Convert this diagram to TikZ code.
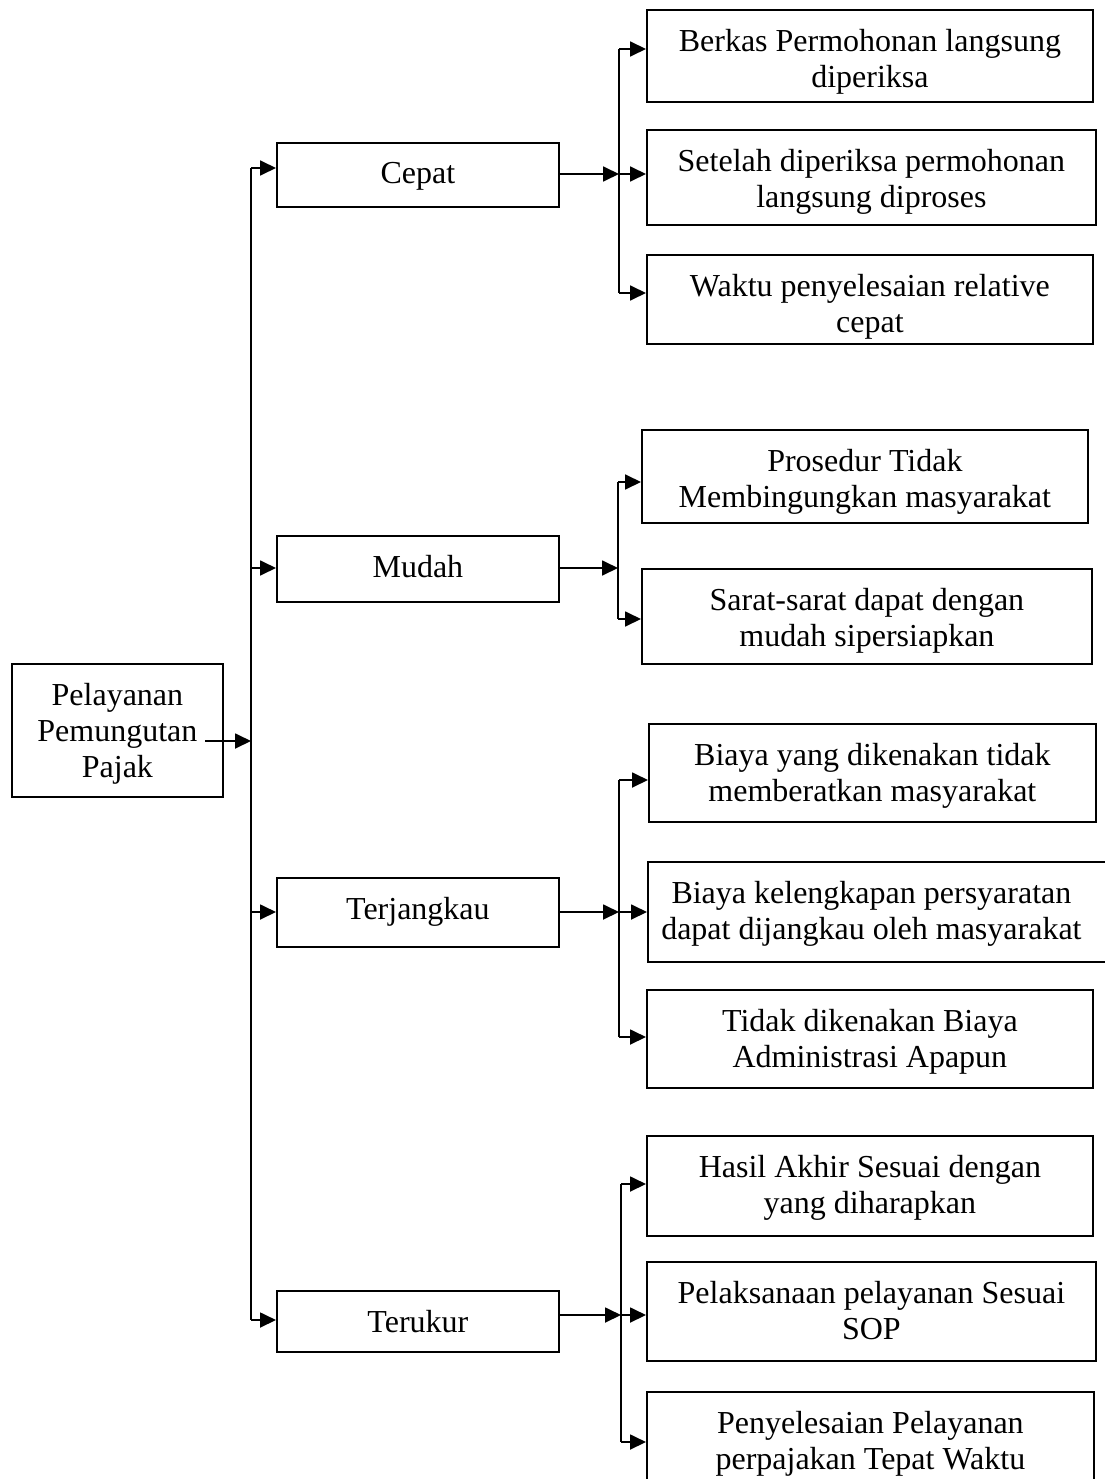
\documentclass[tikz,border=0pt]{standalone}
\usepackage{fontspec}
\setmainfont{Liberation Serif}
\usetikzlibrary{arrows.meta}
\begin{document}
\begin{tikzpicture}[x=1pt,y=-1pt,
  box/.style={draw, line width=1.8pt, rectangle, inner sep=0pt, anchor=north west},
  txt/.style={anchor=north, align=center, inner sep=0pt, font=\fontsize{32}{36}\selectfont},
  conn/.style={line width=1.8pt},
  arr/.style={line width=1.8pt, -{Triangle[length=16pt,width=15pt]}}
]
\useasboundingbox (0,0) rectangle (1104,1479);

% main box
\node[box, minimum width=211pt, minimum height=133pt] (main) at (11,663) {};
\node[txt] (tmain) at ([yshift=-20pt]main.north) {Pelayanan\\Pemungutan\\Pajak};

% level 1 boxes
\node[box, minimum width=282pt, minimum height=64pt] (cepat) at (276,142) {};
\node[txt] (tcepat) at ([yshift=-20pt]cepat.north) {Cepat};
\node[box, minimum width=282pt, minimum height=66pt] (mudah) at (276,535) {};
\node[txt] (tmudah) at ([yshift=-20pt]mudah.north) {Mudah};
\node[box, minimum width=282pt, minimum height=69pt] (terj) at (276,877) {};
\node[txt] (tterj) at ([yshift=-20pt]terj.north) {Terjangkau};
\node[box, minimum width=282pt, minimum height=61pt] (teru) at (276,1290) {};
\node[txt] (tteru) at ([yshift=-20pt]teru.north) {Terukur};

% level 2 boxes
\node[box, minimum width=446pt, minimum height=92pt] (b11) at (646,9) {};
\node[txt] (t11) at ([yshift=-20pt]b11.north) {Berkas Permohonan langsung\\diperiksa};
\node[box, minimum width=449pt, minimum height=95pt] (b12) at (646,129) {};
\node[txt] (t12) at ([yshift=-20pt]b12.north) {Setelah diperiksa permohonan\\langsung diproses};
\node[box, minimum width=446pt, minimum height=89pt] (b13) at (646,254) {};
\node[txt] (t13) at ([yshift=-20pt]b13.north) {Waktu penyelesaian relative\\cepat};

\node[box, minimum width=446pt, minimum height=93pt] (b21) at (641,429) {};
\node[txt] (t21) at ([yshift=-20pt]b21.north) {Prosedur Tidak\\Membingungkan masyarakat};
\node[box, minimum width=450pt, minimum height=95pt] (b22) at (641,568) {};
\node[txt] (t22) at ([yshift=-20pt]b22.north) {Sarat-sarat dapat dengan\\mudah sipersiapkan};

\node[box, minimum width=447pt, minimum height=98pt] (b31) at (648,723) {};
\node[txt] (t31) at ([yshift=-20pt]b31.north) {Biaya yang dikenakan tidak\\memberatkan masyarakat};
\node[box, minimum width=463pt, minimum height=100pt] (b32) at (647,861) {};
\node[txt] (t32) at ([xshift=-8pt,yshift=-20pt]b32.north) {Biaya kelengkapan persyaratan\\dapat dijangkau oleh masyarakat};
\node[box, minimum width=446pt, minimum height=98pt] (b33) at (646,989) {};
\node[txt] (t33) at ([yshift=-20pt]b33.north) {Tidak dikenakan Biaya\\Administrasi Apapun};

\node[box, minimum width=446pt, minimum height=100pt] (b41) at (646,1135) {};
\node[txt] (t41) at ([yshift=-20pt]b41.north) {Hasil Akhir Sesuai dengan\\yang diharapkan};
\node[box, minimum width=449pt, minimum height=99pt] (b42) at (646,1261) {};
\node[txt] (t42) at ([yshift=-20pt]b42.north) {Pelaksanaan pelayanan Sesuai\\SOP};
\node[box, minimum width=447pt, minimum height=100pt] (b43) at (646,1391) {};
\node[txt] (t43) at ([yshift=-20pt]b43.north) {Penyelesaian Pelayanan\\perpajakan Tepat Waktu};

% main trunk
\coordinate (mout) at (205,741);
\coordinate (mj) at (251,741);
\coordinate (m1) at (251,168);
\coordinate (m2) at (251,568);
\coordinate (m3) at (251,912);
\coordinate (m4) at (251,1320);
\draw[arr] (mout) -- (mj);
\draw[conn] (m1) -- (m4);
\draw[arr] (m1) -- (m1 -| cepat.west);
\draw[arr] (m2) -- (m2 -| mudah.west);
\draw[arr] (m3) -- (m3 -| terj.west);
\draw[arr] (m4) -- (m4 -| teru.west);

% Cepat group
\coordinate (c0) at (619,174);
\coordinate (c1) at (619,49);
\coordinate (c3) at (619,293);
\draw[arr] (cepat.east |- c0) -- (c0);
\draw[conn] (c1) -- (c3);
\draw[arr] (c1) -- (c1 -| b11.west);
\draw[arr] (c0) -- (c0 -| b12.west);
\draw[arr] (c3) -- (c3 -| b13.west);

% Mudah group
\coordinate (d0) at (618,568);
\coordinate (d1) at (618,482);
\coordinate (d3) at (618,619);
\draw[arr] (mudah.east |- d0) -- (d0);
\draw[conn] (d1) -- (d3);
\draw[arr] (d1) -- (d1 -| b21.west);
\draw[arr] (d3) -- (d3 -| b22.west);

% Terjangkau group
\coordinate (e0) at (619,912);
\coordinate (e1) at (619,780);
\coordinate (e3) at (619,1037);
\draw[arr] (terj.east |- e0) -- (e0);
\draw[conn] (e1) -- (e3);
\draw[arr] (e1) -- (e1 -| b31.west);
\draw[arr] (e0) -- (e0 -| b32.west);
\draw[arr] (e3) -- (e3 -| b33.west);

% Terukur group
\coordinate (g0) at (621,1315);
\coordinate (g1) at (621,1184);
\coordinate (g3) at (621,1442);
\draw[arr] (teru.east |- g0) -- (g0);
\draw[conn] (g1) -- (g3);
\draw[arr] (g1) -- (g1 -| b41.west);
\draw[arr] (g0) -- (g0 -| b42.west);
\draw[arr] (g3) -- (g3 -| b43.west);
\end{tikzpicture}
\end{document}
